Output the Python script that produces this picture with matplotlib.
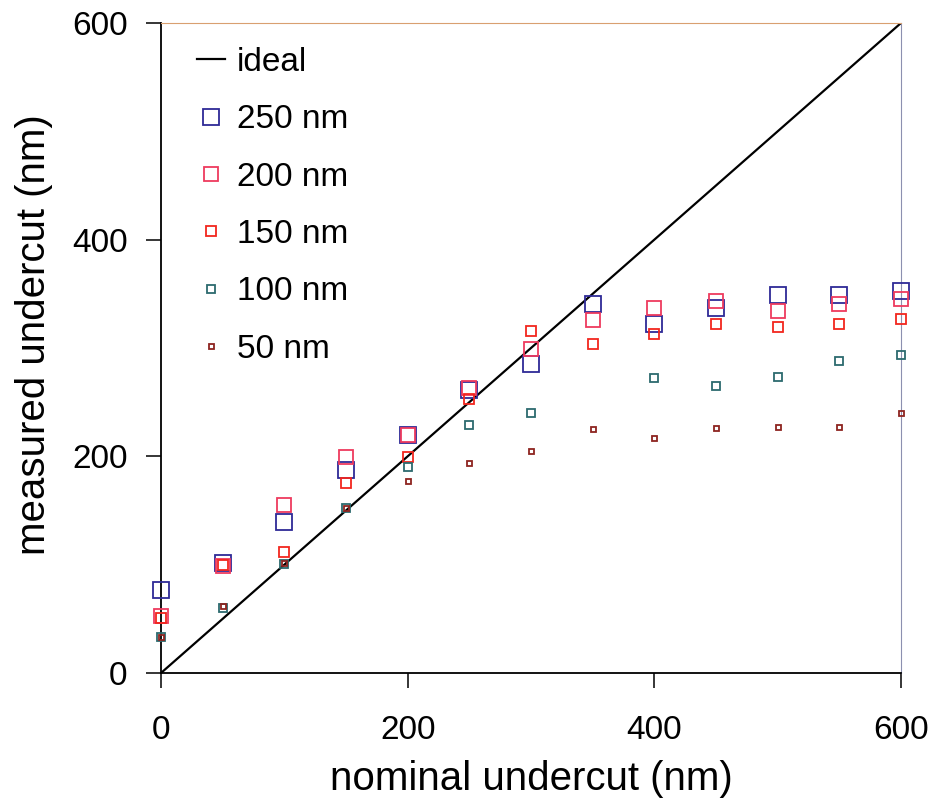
import numpy as np
import matplotlib
matplotlib.use("Agg")
import matplotlib.pyplot as plt

plt.rcParams['font.family'] = ['Liberation Sans', 'DejaVu Sans']

# nominal undercut (nm)
nominal = [0, 50, 100, 150, 200, 250, 300, 350, 400, 450, 500, 550, 600]

# measured undercut (nm) for each feature width
meas_250 = [77, 102, 139, 187, 220, 261, 285, 341, 322, 337, 349, 349, 353]
meas_200 = [53, 99, 155, 199, 220, 263, 299, 326, 337, 343, 334, 341, 345]
meas_150 = [51, 100, 112, 175, 199, 253, 316, 304, 313, 322, 319, 322, 327]
meas_100 = [33, 60, 101, 152, 190, 229, 240, np.nan, 272, 265, 273, 288, 294]
meas_50 = [33, 62, 102, 152, 177, 194, 205, 225, 217, 226, 227, 227, 240]

ideal_x = [0, 600]
ideal_y = [0, 600]

series = [
    ("250 nm", meas_250, "#2E2A96", 11.5),
    ("200 nm", meas_200, "#EE3A5E", 9.6),
    ("150 nm", meas_150, "#F2261E", 7.4),
    ("100 nm", meas_100, "#2C6A6E", 5.8),
    ("50 nm", meas_50, "#8E2420", 3.6),
]

fig = plt.figure(figsize=(9.35, 8.06), dpi=100)
ax = fig.add_axes([161 / 935, 1 - 673 / 806, (901 - 161) / 935, (673 - 23) / 806])

ax.plot(ideal_x, ideal_y, color="black", lw=1.6, label="ideal", zorder=2)
for label, vals, col, ms in series:
    ax.plot(nominal, vals, linestyle="none", marker="s", markersize=ms,
            markerfacecolor="none", markeredgecolor=col, markeredgewidth=1.3,
            label=label, zorder=3, clip_on=False)

ax.set_xlim(0, 600)
ax.set_ylim(0, 600)
ax.set_xticks([0, 200, 400, 600])
ax.set_yticks([0, 200, 400, 600])
ax.tick_params(axis="both", direction="out", length=11, width=1.1,
               labelsize=24, pad=13, color="black")
ax.tick_params(axis="x", pad=19)

for side in ("left", "bottom"):
    ax.spines[side].set_linewidth(1.3)
    ax.spines[side].set_color("black")
ax.spines["top"].set_linewidth(0.8)
ax.spines["top"].set_color("#D9A070")
ax.spines["right"].set_linewidth(0.8)
ax.spines["right"].set_color("#8C90B0")

ax.set_xlabel("nominal undercut (nm)", fontsize=29, labelpad=10)
ax.set_ylabel("measured undercut (nm)", fontsize=29, labelpad=10)
ax.yaxis.set_label_coords(-0.146, 0.52)

ax.legend(loc="upper left", bbox_to_anchor=(197 / 935, 1 - 47 / 806),
          bbox_transform=fig.transFigure, frameon=False, fontsize=24,
          borderpad=0, handlelength=0.85, handletextpad=0.35,
          labelspacing=0.79, borderaxespad=0)

fig.savefig("out.png", dpi=100, facecolor="white")
